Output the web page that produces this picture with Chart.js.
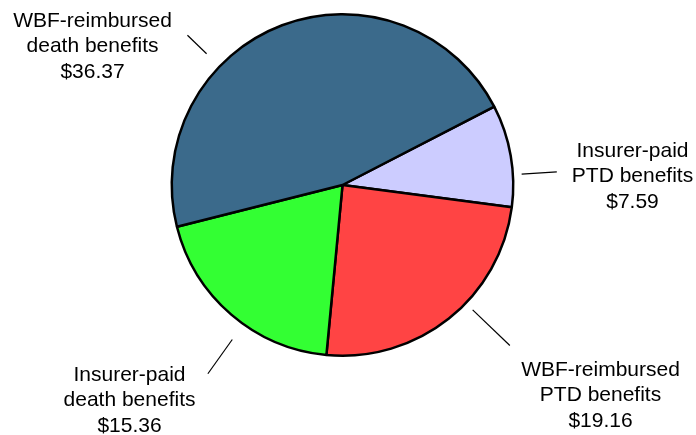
<!DOCTYPE html>
<html>
<head>
<meta charset="utf-8">
<script src="https://cdn.jsdelivr.net/npm/chart.js@4"></script>
<style>
  html, body { margin: 0; padding: 0; background: #fff; }
  #wrap { width: 696px; height: 435px; }
</style>
</head>
<body>
<div id="wrap"><canvas id="pie"></canvas></div>
<script>
  // benefits paid, in millions of dollars
  var categories = ['Insurer-paid\nPTD benefits', 'WBF-reimbursed\nPTD benefits', 'Insurer-paid\ndeath benefits', 'WBF-reimbursed\ndeath benefits'];
  var amounts = [7.59, 19.16, 15.36, 36.37];
  var sliceColors = ['#ccccff', '#ff4444', '#33ff33', '#3b6a8b'];

  // where each label sits: leader line angle (deg clockwise from top), line radii (x outer radius), text offset from centre
  var labelPlacement = [
    { angle: 86.5, r1: 1.045, r2: 1.25, dx: 290, dy: -28 },
    { angle: 133.8, r1: 1.05, r2: 1.35, dx: 258, dy: 191 },
    { angle: 215.5, r1: 1.105, r2: 1.35, dx: -213, dy: 196 },
    { angle: -46, r1: 1.1, r2: 1.255, dx: -250, dy: -158 }
  ];

  var pieLabels = {
    id: 'pieLabels',
    afterDatasetsDraw: function (chart) {
      var ctx = chart.ctx;
      var meta = chart.getDatasetMeta(0);
      var values = chart.data.datasets[0].data;
      ctx.save();
      ctx.strokeStyle = '#000';
      ctx.lineWidth = 1.2;
      ctx.fillStyle = '#000';
      ctx.font = '21px "Liberation Sans", Arial, sans-serif';
      ctx.textAlign = 'center';
      ctx.textBaseline = 'alphabetic';
      meta.data.forEach(function (arc, i) {
        var p = labelPlacement[i];
        var r = arc.outerRadius + 1;
        var a = p.angle * Math.PI / 180;
        ctx.beginPath();
        ctx.moveTo(arc.x + Math.sin(a) * r * p.r1, arc.y - Math.cos(a) * r * p.r1);
        ctx.lineTo(arc.x + Math.sin(a) * r * p.r2, arc.y - Math.cos(a) * r * p.r2);
        ctx.stroke();
        var lines = categories[i].split('\n');
        lines.push('$' + values[i].toFixed(2));
        lines.forEach(function (txt, k) {
          ctx.fillText(txt, arc.x + p.dx, arc.y + p.dy + k * 25.3);
        });
      });
      ctx.restore();
    }
  };

  new Chart(document.getElementById('pie'), {
    type: 'pie',
    data: {
      labels: categories,
      datasets: [{
        data: amounts,
        backgroundColor: sliceColors,
        borderColor: '#000',
        borderWidth: 2.5,
        hoverOffset: 0
      }]
    },
    options: {
      responsive: true,
      maintainAspectRatio: false,
      animation: false,
      rotation: 62.7,
      layout: { padding: { top: 13, bottom: 78, left: 0, right: 11 } },
      plugins: {
        legend: { display: false },
        tooltip: { enabled: false }
      }
    },
    plugins: [pieLabels]
  });
</script>
</body>
</html>
